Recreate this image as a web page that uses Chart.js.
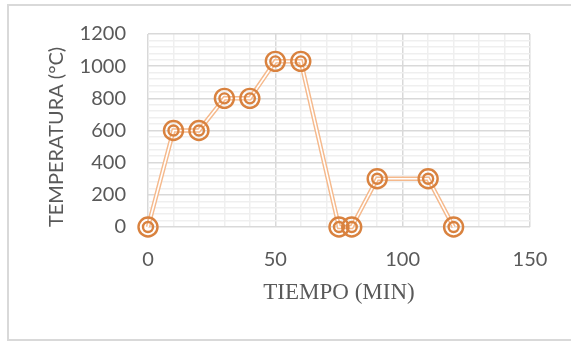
<!DOCTYPE html>
<html>
<head>
<meta charset="utf-8">
<script src="https://cdn.jsdelivr.net/npm/chart.js@4"></script>
<style>
    body { margin: 0; background: #fff; }
    #frame { position: absolute; left: 7px; top: 4px; width: 600px; height: 333px; border: 2px solid #d9d9d9; }
    #chart { position: absolute; left: 0; top: 0; }
</style>
</head>
<body>
<div id="frame"></div>
<canvas id="chart" width="571" height="341"></canvas>
<script>
// Data
const timeMin = [0, 10, 20, 30, 40, 50, 60, 75, 80, 90, 110, 120];
const tempC = [0, 600, 600, 800, 800, 1030, 1030, 0, 0, 300, 300, 0];

const xMax = 150, xMajor = 50, xMinor = 10;
const yMax = 1200, yMajor = 200, yMinor = 40;

const points = timeMin.map((t, i) => ({ x: t, y: tempC[i] }));

const lineColor = '#f5b98c';
const markerColor = '#d9823f';
const textColor = '#595959';

// Same points drawn a few times to fake Excel's double line and ringed markers
const datasets = [
    { data: points, showLine: true, borderColor: lineColor, borderWidth: 4.5, pointRadius: 0, order: 4, clip: false },
    { data: points, showLine: true, borderColor: '#ffffff', borderWidth: 1.6, pointRadius: 0, order: 3, clip: false },
    { data: points, showLine: false, pointRadius: 9.5, pointBorderWidth: 2.4, pointBorderColor: markerColor, pointBackgroundColor: 'rgba(0,0,0,0)', order: 2, clip: false },
    { data: points, showLine: false, pointRadius: 5, pointBorderWidth: 2.4, pointBorderColor: markerColor, pointBackgroundColor: 'rgba(0,0,0,0)', order: 1, clip: false }
];

new Chart(document.getElementById('chart'), {
    type: 'scatter',
    data: { datasets: datasets },
    options: {
        responsive: false,
        animation: false,
        layout: { padding: { top: 33, right: 41, left: 0, bottom: 0 } },
        plugins: { legend: { display: false }, tooltip: { enabled: false } },
        scales: {
            x: {
                type: 'linear',
                min: 0,
                max: xMax,
                afterFit: scale => { scale.height = 114; },
                border: { display: false },
                grid: {
                    drawTicks: false,
                    lineWidth: 1.5,
                    color: ctx => ctx.tick && ctx.tick.value % xMajor === 0 ? '#d9d9d9' : '#efefef'
                },
                ticks: {
                    stepSize: xMinor,
                    autoSkip: false,
                    maxRotation: 0,
                    padding: 21,
                    color: textColor,
                    font: { family: 'Lato', size: 20 },
                    callback: v => v % xMajor === 0 ? v : ''
                },
                title: {
                    display: true,
                    text: 'TIEMPO (MIN)',
                    color: textColor,
                    font: { family: 'Liberation Serif', size: 23 },
                    padding: { top: 0, bottom: 34 }
                }
            },
            y: {
                min: 0,
                max: yMax,
                afterFit: scale => { scale.width = 148; },
                border: { display: false },
                grid: {
                    drawTicks: false,
                    lineWidth: 1.5,
                    color: ctx => ctx.tick && ctx.tick.value % yMajor === 0 ? '#d9d9d9' : '#efefef'
                },
                ticks: {
                    stepSize: yMinor,
                    autoSkip: false,
                    padding: 22,
                    color: textColor,
                    font: { family: 'Lato', size: 20 },
                    callback: v => v % yMajor === 0 ? v : ''
                },
                title: {
                    display: true,
                    text: 'TEMPERATURA (°C)',
                    align: 'start',
                    color: textColor,
                    font: { family: 'Lato', size: 20 },
                    padding: { top: 45, bottom: 0 }
                }
            }
        }
    }
});
</script>
</body>
</html>
